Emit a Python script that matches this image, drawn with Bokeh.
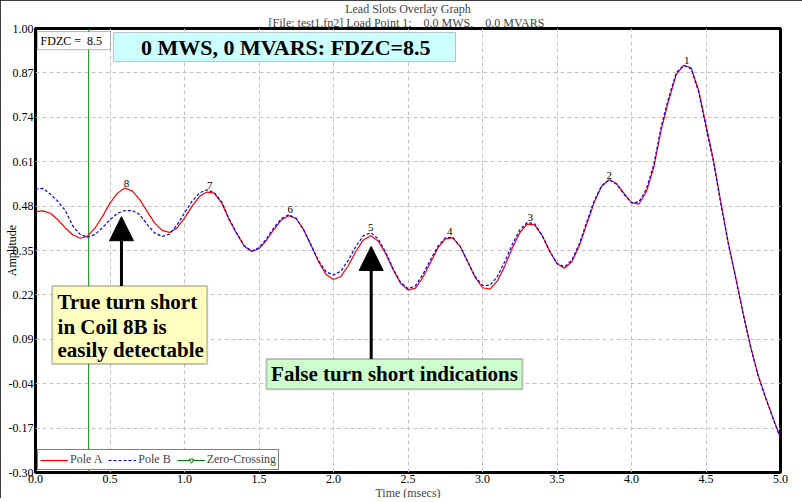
from bokeh.plotting import figure
from bokeh.models import (FixedTicker, PrintfTickFormatter, Title, Label, BoxAnnotation,
                          Arrow, NormalHead, Legend, LegendItem)
from bokeh.embed import file_html
from bokeh.resources import INLINE
from bokeh.core.properties import value

# ---------------- data ----------------
time_ms = [0.00, 0.05, 0.10, 0.15, 0.20, 0.25, 0.30, 0.35, 0.40, 0.45,
           0.50, 0.55, 0.60, 0.65, 0.70, 0.75, 0.80, 0.85, 0.90, 0.95,
           1.00, 1.05, 1.10, 1.15, 1.20, 1.25, 1.30, 1.35, 1.40, 1.45,
           1.50, 1.55, 1.60, 1.65, 1.70, 1.75, 1.80, 1.85, 1.90, 1.95,
           2.00, 2.05, 2.10, 2.15, 2.20, 2.25, 2.30, 2.35, 2.40, 2.45,
           2.50, 2.55, 2.60, 2.65, 2.70, 2.75, 2.80, 2.85, 2.90, 2.95,
           3.00, 3.05, 3.10, 3.15, 3.20, 3.25, 3.30, 3.35, 3.40, 3.45,
           3.50, 3.55, 3.60, 3.65, 3.70, 3.75, 3.80, 3.85, 3.90, 3.95,
           4.00, 4.05, 4.10, 4.15, 4.20, 4.25, 4.30, 4.35, 4.40, 4.45,
           4.50, 4.55, 4.60, 4.65, 4.70, 4.75, 4.80, 4.85, 4.90, 4.95,
           5.00]

pole_a = [0.464, 0.466, 0.459, 0.440, 0.416, 0.396, 0.386, 0.392, 0.416, 0.450,
          0.489, 0.518, 0.533, 0.524, 0.499, 0.464, 0.430, 0.409, 0.403, 0.416,
          0.445, 0.479, 0.508, 0.521, 0.518, 0.489, 0.440, 0.400, 0.363, 0.347,
          0.355, 0.380, 0.412, 0.439, 0.452, 0.443, 0.411, 0.365, 0.317, 0.280,
          0.265, 0.274, 0.306, 0.347, 0.381, 0.393, 0.378, 0.341, 0.294, 0.254,
          0.234, 0.240, 0.271, 0.314, 0.357, 0.384, 0.387, 0.362, 0.318, 0.272,
          0.241, 0.237, 0.261, 0.305, 0.357, 0.402, 0.427, 0.425, 0.394, 0.349,
          0.311, 0.298, 0.317, 0.364, 0.428, 0.491, 0.538, 0.557, 0.546, 0.517,
          0.490, 0.486, 0.522, 0.594, 0.705, 0.790, 0.865, 0.892, 0.885, 0.820,
          0.718, 0.615, 0.490, 0.372, 0.270, 0.165, 0.068, -0.015, -0.080, -0.140,
          -0.200]

pole_b = [0.530, 0.532, 0.515, 0.494, 0.467, 0.422, 0.397, 0.389, 0.397, 0.417,
          0.440, 0.459, 0.467, 0.467, 0.455, 0.426, 0.401, 0.391, 0.398, 0.425,
          0.460, 0.494, 0.518, 0.528, 0.519, 0.492, 0.442, 0.401, 0.364, 0.349,
          0.358, 0.384, 0.417, 0.443, 0.455, 0.444, 0.410, 0.365, 0.320, 0.288,
          0.278, 0.290, 0.322, 0.362, 0.393, 0.402, 0.384, 0.345, 0.297, 0.257,
          0.238, 0.247, 0.280, 0.322, 0.362, 0.387, 0.389, 0.362, 0.318, 0.274,
          0.248, 0.248, 0.274, 0.318, 0.368, 0.410, 0.432, 0.428, 0.394, 0.349,
          0.312, 0.302, 0.322, 0.370, 0.434, 0.496, 0.540, 0.557, 0.544, 0.514,
          0.490, 0.492, 0.530, 0.603, 0.714, 0.798, 0.870, 0.892, 0.882, 0.815,
          0.710, 0.610, 0.485, 0.368, 0.267, 0.162, 0.066, -0.017, -0.082, -0.142,
          -0.200]

fdzc_time = [0.357, 0.357]
fdzc_span = [-0.30, 1.00]

peak_num = ["1", "2", "3", "4", "5", "6", "7", "8"]
peak_time = [4.37, 3.85, 3.32, 2.78, 2.25, 1.71, 1.17, 0.61]
peak_amp = [0.894, 0.557, 0.434, 0.391, 0.403, 0.456, 0.528, 0.533]

x_ticks = [0.0, 0.5, 1.0, 1.5, 2.0, 2.5, 3.0, 3.5, 4.0, 4.5, 5.0]
y_ticks = [1.00, 0.87, 0.74, 0.61, 0.48, 0.35, 0.22, 0.09, -0.04, -0.17, -0.30]

SERIF = "Liberation Serif"
NB = "\u00a0"

# ---------------- figure ----------------
p = figure(width=802, height=498, x_range=(0, 5), y_range=(-0.30, 1.00),
           output_backend="svg", toolbar_location=None,
           min_border_left=35, min_border_right=22, min_border_top=0, min_border_bottom=26,
           background_fill_color="white", border_fill_color="white")
p.styles = {"outline": "2px solid black", "outline-offset": "-2px"}

p.title.text = "Lead Slots Overlay Graph"
p.title.align = "center"
p.title.text_font = SERIF
p.title.text_font_size = "12px"
p.title.text_font_style = "normal"
p.title.standoff = -2
p.title.offset = 0
sub_title = Title(text="[File: test1.fp2]  Load Point 1:" + NB * 4 + "0.0 MWS," + NB * 4 + "0.0 MVARS",
                  align="center", text_font=SERIF, text_font_size="12px",
                  text_font_style="normal", standoff=-2)
p.add_layout(sub_title, "above")

x_title = Title(text="Time (msecs)", align="center", text_font=SERIF, text_font_size="12px",
                text_font_style="normal", standoff=-4)
p.add_layout(x_title, "below")

p.outline_line_color = "black"
p.outline_line_width = 3

for ax in (p.xaxis, p.yaxis):
    ax.axis_line_color = None
    ax.major_tick_line_color = None
    ax.minor_tick_line_color = None
    ax.major_tick_out = 0
    ax.major_tick_in = 0
    ax.minor_tick_out = 0
    ax.minor_tick_in = 0
    ax.major_label_text_font = SERIF
    ax.major_label_text_font_size = "12px"
    ax.major_label_text_color = "black"
    ax.axis_label_text_font = SERIF
    ax.axis_label_text_font_size = "12px"
    ax.axis_label_text_font_style = "normal"
    ax.axis_label_text_color = "black"
    ax.major_label_standoff = 2

p.xaxis.ticker = FixedTicker(ticks=x_ticks)
p.xaxis.formatter = PrintfTickFormatter(format="%.1f")
p.yaxis.ticker = FixedTicker(ticks=y_ticks)
p.yaxis.formatter = PrintfTickFormatter(format="%.2f")
p.yaxis.axis_label = "Amplitude"
p.yaxis.axis_label_standoff = -13

p.xgrid.ticker = FixedTicker(ticks=x_ticks)
p.ygrid.ticker = FixedTicker(ticks=y_ticks)
for g in (p.xgrid, p.ygrid):
    g.grid_line_color = "#c8c0c8"
    g.grid_line_dash = "4 3"
    g.grid_line_width = 1

# ---------------- series ----------------
r_zc = p.line(fdzc_time, fdzc_span, line_color="#008000", line_width=1)
r_a = p.line(time_ms, pole_a, line_color="#ff0000", line_width=1.2)
r_b = p.line(time_ms, pole_b, line_color="#0000ff", line_width=1.2, line_dash="3 2")
r_tri = p.scatter(fdzc_time[:1], fdzc_span[:1], marker="inverted_triangle", size=11,
                  line_color="#008000", fill_color="white", line_width=1, visible=False)

p.text(x=peak_time, y=peak_amp, text=peak_num, text_align="center", text_baseline="bottom",
       y_offset=-1, text_font=value(SERIF), text_font_size="11px", text_color="black")

# ---------------- annotations ----------------
p.add_layout(BoxAnnotation(left=0.013, right=0.503, top=0.991, bottom=0.938,
                           fill_color="white", fill_alpha=1, line_color="black", line_width=1))
p.add_layout(Label(x=0.034, y=0.9645, text="FDZC =" + NB * 2 + "8.5", text_baseline="middle",
                   text_font=SERIF, text_font_size="12px", text_color="black"))

p.add_layout(BoxAnnotation(left=0.523, right=2.819, top=0.988, bottom=0.903,
                           fill_color="#ccffff", fill_alpha=1, line_color="#404040", line_width=1))
p.add_layout(Label(x=1.68, y=0.945, text="0 MWS, 0 MVARS: FDZC=8.5", text_align="center",
                   text_baseline="middle", text_font=SERIF, text_font_size="22px",
                   text_font_style="bold", text_color="black"))

p.add_layout(BoxAnnotation(left=0.112, right=1.152, top=0.246, bottom=0.018,
                           fill_color="#ffffc0", fill_alpha=1, line_color="#404040", line_width=2))
for txt, yy in (("True turn short", 0.199), ("in Coil 8B is", 0.127), ("easily detectable", 0.058)):
    p.add_layout(Label(x=0.148, y=yy, text=txt, text_baseline="middle", text_font=SERIF,
                       text_font_size="21px", text_font_style="bold", text_color="black"))

p.add_layout(BoxAnnotation(left=1.550, right=3.268, top=0.032, bottom=-0.056,
                           fill_color="#ccffcc", fill_alpha=1, line_color="#404040", line_width=2))
p.add_layout(Label(x=2.409, y=-0.012, text="False turn short indications", text_align="center",
                   text_baseline="middle", text_font=SERIF, text_font_size="21px",
                   text_font_style="bold", text_color="black"))

for ax_x, y0, y1 in ((0.577, 0.246, 0.449), (2.253, 0.032, 0.362)):
    p.add_layout(Arrow(end=NormalHead(size=24, fill_color="black", line_color="black"),
                       x_start=ax_x, y_start=y0, x_end=ax_x, y_end=y1,
                       line_color="black", line_width=3))

legend = Legend(items=[LegendItem(label="Pole A", renderers=[r_a]),
                       LegendItem(label="Pole B", renderers=[r_b]),
                       LegendItem(label="Zero-Crossing", renderers=[r_zc, r_tri])],
                location="bottom_left", orientation="horizontal",
                label_text_font=SERIF, label_text_font_size="12px",
                border_line_color="black", border_line_width=1.5,
                background_fill_color="white", background_fill_alpha=1,
                padding=2, spacing=6, margin=2, glyph_width=28, glyph_height=12,
                label_standoff=2, label_height=12)
p.add_layout(legend)

open("out.html", "w").write(file_html(p, INLINE))
